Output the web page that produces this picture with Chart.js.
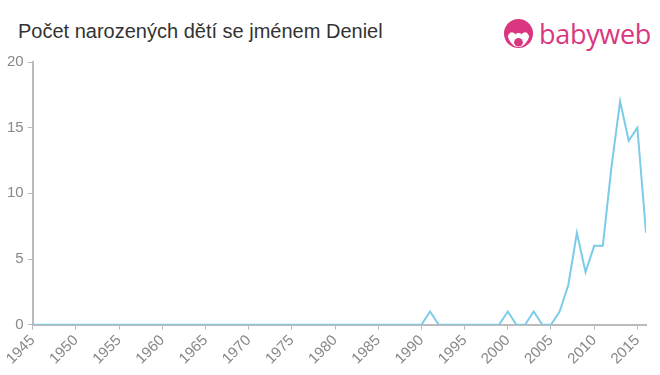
<!DOCTYPE html>
<html>
<head>
<meta charset="utf-8">
<script src="https://cdn.jsdelivr.net/npm/chart.js@4"></script>
<style>
  html, body { margin: 0; padding: 0; background: #fff; }
  #wrap { position: relative; width: 660px; height: 375px; overflow: hidden; }
  #title { position: absolute; left: 18px; top: 21px; font-family: "Liberation Sans", Arial, sans-serif; font-size: 20px; line-height: 1; color: #333; }
  #logo { position: absolute; left: 503px; top: 17px; display: flex; align-items: center; }
  #logo span { font-family: "Open Sans", "DejaVu Sans", sans-serif; font-size: 27px; color: #d9377f; margin-left: 5px; letter-spacing: -0.3px; line-height: 34px; }
  #chart { position: absolute; left: 0; top: 0; }
</style>
</head>
<body>
<div id="wrap">
  <div id="title">Počet narozených dětí se jménem Deniel</div>
  <div id="logo">
    <svg width="31" height="33" viewBox="0 0 32 34">
      <circle cx="16" cy="16" r="15" fill="#d9377f"/>
      <path d="M5 19 C7 13 11 14 13 17 C14 15 18 15 19 17 C21 14 25 13 27 19 C25 26 20 30 16 30 C12 30 7 26 5 19 Z" fill="#fff"/>
      <circle cx="16" cy="25" r="4.5" fill="#d9377f"/>
    </svg>
    <span>babyweb</span>
  </div>
  <canvas id="chart" width="660" height="375"></canvas>
</div>
<script>
const years = [
  1945, 1946, 1947, 1948, 1949, 1950, 1951, 1952, 1953, 1954,
  1955, 1956, 1957, 1958, 1959, 1960, 1961, 1962, 1963, 1964,
  1965, 1966, 1967, 1968, 1969, 1970, 1971, 1972, 1973, 1974,
  1975, 1976, 1977, 1978, 1979, 1980, 1981, 1982, 1983, 1984,
  1985, 1986, 1987, 1988, 1989, 1990, 1991, 1992, 1993, 1994,
  1995, 1996, 1997, 1998, 1999, 2000, 2001, 2002, 2003, 2004,
  2005, 2006, 2007, 2008, 2009, 2010, 2011, 2012, 2013, 2014,
  2015, 2016
];
const births = [
  0, 0, 0, 0, 0, 0, 0, 0, 0, 0,
  0, 0, 0, 0, 0, 0, 0, 0, 0, 0,
  0, 0, 0, 0, 0, 0, 0, 0, 0, 0,
  0, 0, 0, 0, 0, 0, 0, 0, 0, 0,
  0, 0, 0, 0, 0, 0, 1, 0, 0, 0,
  0, 0, 0, 0, 0, 1, 0, 0, 1, 0,
  0, 1, 3, 7, 4, 6, 6, 12, 17, 14,
  15, 7
];
const yTicks = [0, 5, 10, 15, 20];

const axisColor = '#bbbbbb';
const labelColor = '#888888';
const fontFamily = '"Liberation Sans", Arial, sans-serif';

new Chart(document.getElementById('chart'), {
  type: 'line',
  data: {
    datasets: [{
      data: years.map((y, i) => ({ x: y, y: births[i] })),
      borderColor: '#7ccbe8',
      borderWidth: 2,
      pointRadius: 0,
      tension: 0,
      fill: false
    }]
  },
  options: {
    responsive: false,
    animation: false,
    layout: { padding: { top: 62, right: 14, left: 3, bottom: 5 } },
    plugins: { legend: { display: false }, tooltip: { enabled: false } },
    scales: {
      x: {
        type: 'linear',
        min: 1945,
        max: 2016,
        grid: { drawOnChartArea: false, drawTicks: true, tickLength: 5, color: axisColor },
        border: { color: axisColor, width: 2 },
        ticks: {
          stepSize: 5,
          includeBounds: false,
          minRotation: 45,
          maxRotation: 45,
          padding: 2,
          color: labelColor,
          font: { size: 15, family: fontFamily },
          callback: v => String(v)
        }
      },
      y: {
        min: 0,
        max: 20,
        afterBuildTicks: axis => { axis.ticks = yTicks.map(v => ({ value: v })); },
        grid: { drawOnChartArea: false, drawTicks: true, tickLength: 5, color: axisColor },
        border: { color: axisColor, width: 2 },
        ticks: {
          color: labelColor,
          padding: 4,
          font: { size: 15, family: fontFamily }
        }
      }
    }
  }
});
</script>
</body>
</html>
